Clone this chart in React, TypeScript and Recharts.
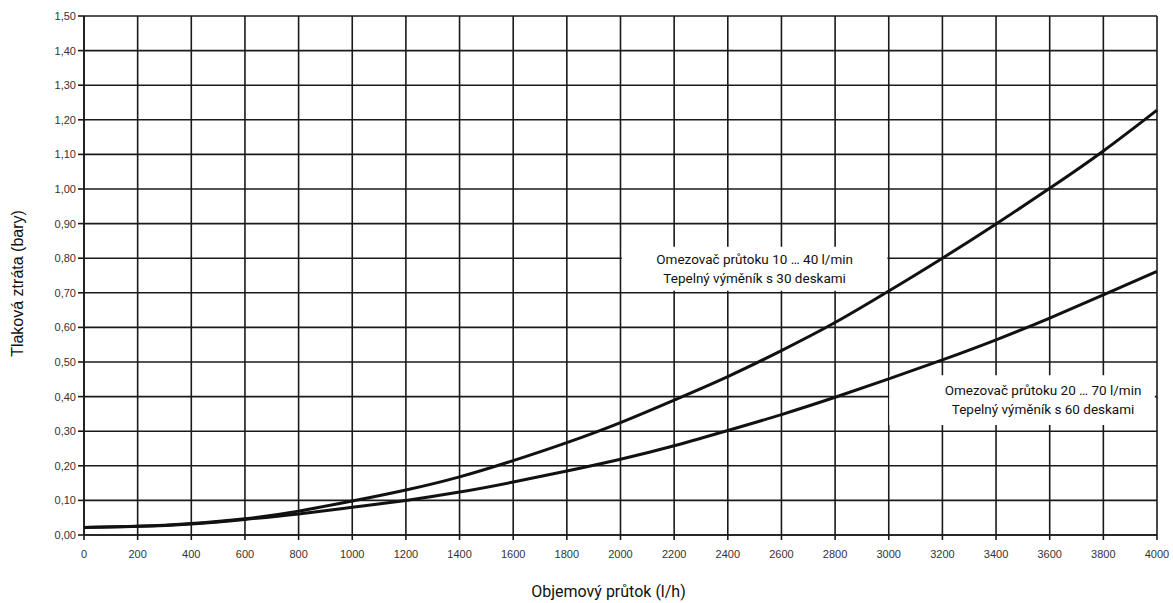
import React from 'react';
import {
  LineChart,
  Line,
  XAxis,
  YAxis,
  CartesianGrid,
  ReferenceArea,
} from 'recharts';

// Objemový průtok (l/h)
const flow = [0, 200, 400, 600, 800, 1000, 1200, 1400, 1600, 1800, 2000, 2200, 2400, 2600, 2800, 3000, 3200, 3400, 3600, 3800, 4000];

// Omezovač průtoku 10 … 40 l/min, Tepelný výměník s 30 deskami
const loss30 = [0.022, 0.025, 0.033, 0.047, 0.069, 0.098, 0.13, 0.168, 0.215, 0.267, 0.325, 0.39, 0.458, 0.533, 0.614, 0.705, 0.8, 0.899, 1.002, 1.11, 1.228];

// Omezovač průtoku 20 … 70 l/min, Tepelný výměník s 60 deskami
const loss60 = [0.022, 0.025, 0.032, 0.045, 0.061, 0.08, 0.1, 0.124, 0.153, 0.185, 0.219, 0.258, 0.302, 0.348, 0.398, 0.451, 0.506, 0.564, 0.627, 0.694, 0.762];

const xTicks = [0, 200, 400, 600, 800, 1000, 1200, 1400, 1600, 1800, 2000, 2200, 2400, 2600, 2800, 3000, 3200, 3400, 3600, 3800, 4000];
const yTicks = [0, 0.1, 0.2, 0.3, 0.4, 0.5, 0.6, 0.7, 0.8, 0.9, 1.0, 1.1, 1.2, 1.3, 1.4, 1.5];

const note30 = ['Omezovač průtoku 10 … 40 l/min', 'Tepelný výměník s 30 deskami'];
const note60 = ['Omezovač průtoku 20 … 70 l/min', 'Tepelný výměník s 60 deskami'];

const data = flow.map((q, i) => ({ q, a: loss30[i], b: loss60[i] }));

const tickFont = { fontFamily: 'Liberation Sans, Arial, sans-serif', fontSize: 11, fill: '#333' };
const dinFont = 'Roboto, "Noto Sans", sans-serif';

const fmt = (v: number) => v.toFixed(2).replace('.', ',');

function noteLabel(lines: string[], shift = 0) {
  return (props: any) => {
    const vb = props.viewBox || {};
    const cx = vb.x + vb.width / 2 + shift;
    const cy = vb.y + vb.height / 2;
    return (
      <text x={cx} y={cy - 9.5} textAnchor="middle" fontFamily={dinFont} fontSize={13.5} fill="#111">
        <tspan x={cx} dy="0.35em">{lines[0]}</tspan>
        <tspan x={cx} dy={19}>{lines[1]}</tspan>
      </text>
    );
  };
}

export default function App() {
  return (
    <div style={{ position: 'absolute', left: 0, top: 0, background: '#fff' }}>
      <LineChart
        width={1173}
        height={603}
        data={data}
        margin={{ top: 16, right: 16, bottom: 0, left: 0 }}
      >
        <CartesianGrid stroke="#1a1a1a" strokeWidth={1.6} horizontalValues={yTicks} verticalValues={xTicks} />
        <XAxis
          dataKey="q"
          type="number"
          domain={[0, 4000]}
          ticks={xTicks}
          interval={0}
          height={68}
          tickSize={5}
          tickMargin={10}
          tick={tickFont}
          axisLine={{ stroke: '#1a1a1a', strokeWidth: 1.6 }}
          tickLine={{ stroke: '#1a1a1a', strokeWidth: 1.6 }}
          label={{
            content: (p: any) => {
              const vb = p.viewBox || {};
              return (
                <text x={vb.x + vb.width / 2 - 12} y={591} textAnchor="middle" dominantBaseline="central" fontFamily={dinFont} fontSize={16} fill="#111">
                  Objemový průtok (l/h)
                </text>
              );
            },
          }}
        />
        <YAxis
          type="number"
          domain={[0, 1.5]}
          ticks={yTicks}
          interval={0}
          width={84}
          tickSize={6}
          tickMargin={2}
          tick={tickFont}
          tickFormatter={fmt}
          axisLine={{ stroke: '#1a1a1a', strokeWidth: 1.6 }}
          tickLine={{ stroke: '#1a1a1a', strokeWidth: 1.6 }}
          label={{
            content: (p: any) => {
              const vb = p.viewBox || {};
              const cy = vb.y + vb.height / 2 + 8;
              return (
                <text x={23} y={cy} transform={`rotate(-90, 23, ${cy})`} textAnchor="middle" fontFamily="Liberation Sans, Arial, sans-serif" fontSize={16} fill="#111">
                  Tlaková ztráta (bary)
                </text>
              );
            },
          }}
        />
        <Line type="natural" dataKey="a" stroke="#111" strokeWidth={3} dot={false} isAnimationActive={false} />
        <Line type="natural" dataKey="b" stroke="#111" strokeWidth={3} dot={false} isAnimationActive={false} />
        <ReferenceArea x1={2005} x2={2995} y1={0.706} y2={0.833} fill="#fff" fillOpacity={1} stroke="none" label={noteLabel(note30)} />
        <ReferenceArea x1={3002} x2={3992} y1={0.318} y2={0.462} fill="#fff" fillOpacity={1} stroke="none" label={noteLabel(note60, 21)} />
      </LineChart>
    </div>
  );
}
